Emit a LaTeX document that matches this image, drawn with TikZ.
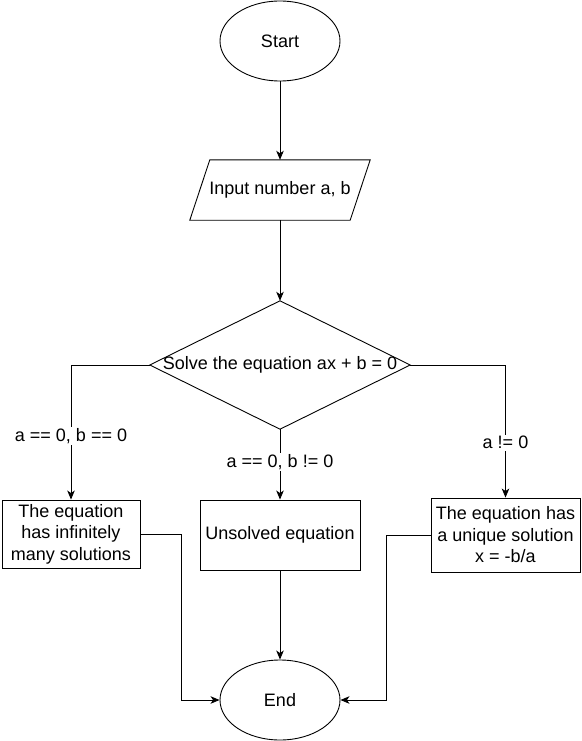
\documentclass[tikz,border=0pt]{standalone}
\usepackage{fontspec}
\setmainfont{Liberation Sans}
\usetikzlibrary{shapes.geometric,arrows.meta,calc}
\begin{document}
\begin{tikzpicture}[x=1pt,y=-1pt,
  every node/.style={font=\fontsize{18}{21.5}\selectfont, text=black},
  base/.style={line width=0.9pt, draw=black},
  ell/.style={base, ellipse, minimum width=120pt, minimum height=80pt, inner sep=0pt},
  boxn/.style={base, rectangle, align=center, inner sep=0pt},
  ghost/.style={rectangle, inner sep=0pt},
  lbl/.style={fill=white, inner sep=1.5pt},
  arr/.style={line width=0.9pt, -{Stealth[length=9pt,width=7.5pt,inset=2.5pt]}},
  ln/.style={line width=0.9pt}]
\fill[white] (0,0) rectangle (581,741);
\useasboundingbox (0,0) rectangle (581,741);

\node[ell] (start) at (280,41) {Start};

\node[ghost, minimum width=180pt, minimum height=60pt] (input) at (280,190) {Input number a, b};
\draw[base] ($(input.north west)+(20pt,0)$) -- (input.north east)
  -- ($(input.south east)+(-20pt,0)$) -- (input.south west) -- cycle;

\node[ghost, minimum width=260pt, minimum height=128pt] (dia) at (280,365) {Solve the equation ax + b = 0};
\draw[base] (dia.north) -- (dia.east) -- (dia.south) -- (dia.west) -- cycle;

\node[boxn, minimum width=138pt, minimum height=68pt] (lbox) at (71,534) {The equation\\has infinitely\\many solutions};
\node[boxn, minimum width=160pt, minimum height=70pt] (mbox) at (280,535) {Unsolved equation};
\node[boxn, minimum width=149pt, minimum height=74pt] (rbox) at (505.5,535) {The equation has\\a unique solution\\x = -b/a};

\node[ell] (end) at (280,700) {End};

\coordinate (lc) at (181,534);
\coordinate (rc) at (386,535);

\draw[arr] (start.south) -- (input.north);
\draw[arr] (input.south) -- (dia.north);
\draw[arr] (dia.west) -| node[lbl, pos=0.763] {a == 0, b == 0} (lbox.north);
\draw[arr] (dia.south) -- node[lbl, pos=0.465] {a == 0, b != 0} (mbox.north);
\draw[arr] (dia.east) -| node[lbl, pos=0.793] {a != 0} (rbox.north);
\draw[arr] (lbox.east) -- (lc) |- (end.west);
\draw[arr] (rbox.west) -- (rc) |- (end.east);
\draw[arr] (mbox.south) -- (end.north);
\end{tikzpicture}
\end{document}
